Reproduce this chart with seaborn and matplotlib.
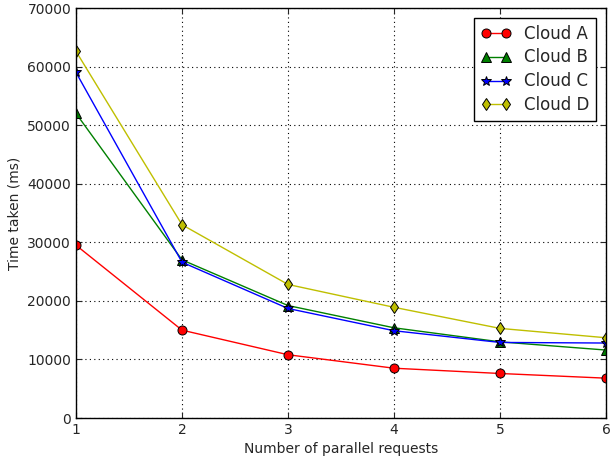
import numpy as np
import pandas as pd
import matplotlib
matplotlib.use("Agg")
import matplotlib.pyplot as plt
import seaborn as sns

# parallel requests on x, time in ms on y
requests = [1, 2, 3, 4, 5, 6]
cloud_a = [29500, 15000, 10800, 8500, 7600, 6800]
cloud_b = [52000, 27000, 19200, 15400, 13000, 11600]
cloud_c = [59000, 26600, 18700, 14900, 12900, 12800]
cloud_d = [62600, 33000, 22800, 18900, 15300, 13700]

series_names = ["Cloud A", "Cloud B", "Cloud C", "Cloud D"]
series_vals = [cloud_a, cloud_b, cloud_c, cloud_d]
colors = ["#ff0000", "#008000", "#0000ff", "#bfbf00"]
markers = ["o", "^", "*", "d"]

df = pd.DataFrame({
    "requests": np.tile(requests, len(series_names)),
    "time": np.concatenate(series_vals),
    "cloud": np.repeat(series_names, len(requests)),
})

sns.set_style("ticks", {
    "axes.edgecolor": "black",
    "axes.grid": True,
    "grid.color": "black",
    "grid.linestyle": ":",
    "xtick.direction": "in",
    "ytick.direction": "in",
    "xtick.top": True,
    "ytick.right": True,
})
plt.rcParams["font.family"] = ["DejaVu Sans"]
plt.rcParams["font.size"] = 10

fig = plt.figure(figsize=(6.10, 4.57), dpi=100)
ax = fig.add_axes([76 / 610, 1 - 418 / 457, 530 / 610, 410 / 457])

for name, col, mk in zip(series_names, colors, markers):
    sub = df[df["cloud"] == name]
    sns.lineplot(data=sub, x="requests", y="time", color=col, marker=mk,
                 markersize=7 if mk == "*" else 6.5, markeredgecolor="black",
                 markeredgewidth=0.7, linewidth=1, label=name, ax=ax,
                 legend=False)

ax.set_xlim(1, 6)
ax.set_ylim(0, 70000)
ax.set_yticks(np.arange(0, 70001, 10000))
ax.set_xticks(requests)
ax.grid(True, color="black", linestyle=(0, (1, 3)), linewidth=0.8)
ax.tick_params(direction="in", top=True, right=True, length=4, labelsize=10)
for sp in ax.spines.values():
    sp.set_visible(True)
    sp.set_color("black")
    sp.set_linewidth(1)

ax.set_xlabel("Number of parallel requests", fontsize=10)
ax.set_ylabel("Time taken (ms)", fontsize=10)

leg = ax.legend(loc="upper right", fontsize=12, numpoints=2, fancybox=False,
                framealpha=1, edgecolor="black", borderaxespad=0.6,
                labelspacing=0.35, handlelength=1.8)
leg.get_frame().set_linewidth(1)

fig.savefig("out.png", dpi=100)
